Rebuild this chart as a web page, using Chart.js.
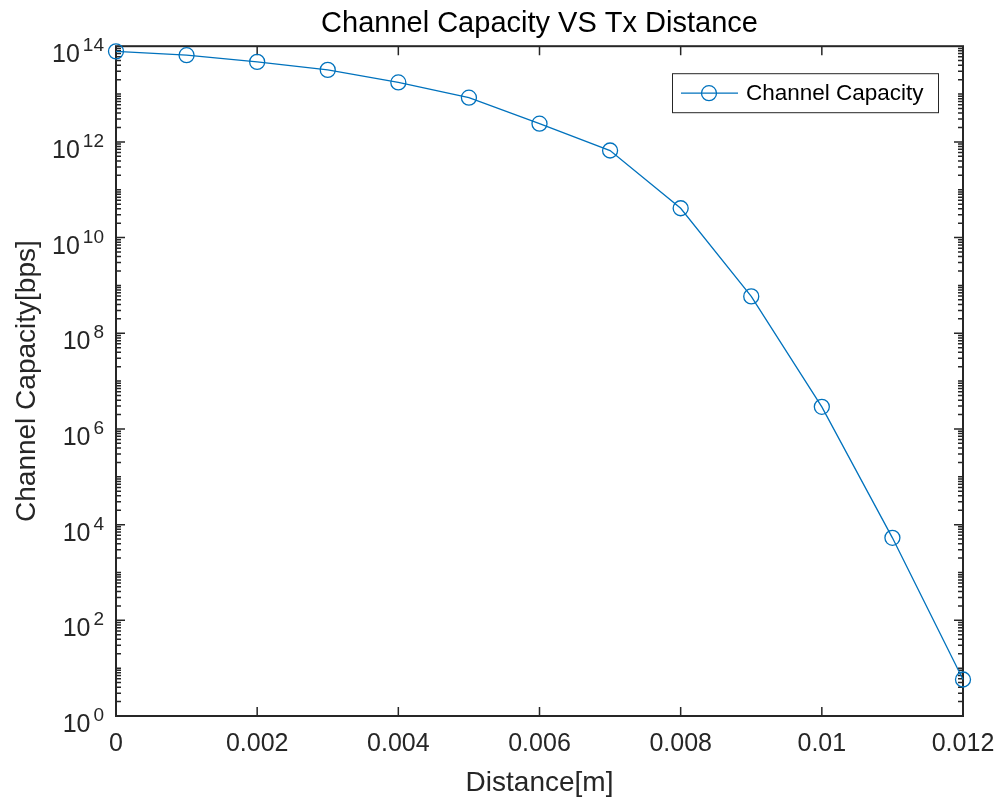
<!DOCTYPE html>
<html>
<head>
<meta charset="utf-8">
<title>Channel Capacity VS Tx Distance</title>
<script src="https://cdn.jsdelivr.net/npm/chart.js@4.4.0/dist/chart.umd.min.js"></script>
<style>
  html, body { margin: 0; padding: 0; background: #fff; }
  #wrap { width: 1000px; height: 801px; }
</style>
</head>
<body>
<div id="wrap"><canvas id="capacityChart"></canvas></div>
<script>
// values
const distances = [0, 0.001, 0.002, 0.003, 0.004, 0.005, 0.006, 0.007, 0.008, 0.009, 0.010, 0.011, 0.012];
const capacity = [7.8e13, 6.5e13, 4.7e13, 3.2e13, 1.75e13, 8.4e12, 2.4e12, 6.6e11, 4.1e10, 5.9e8, 2.9e6, 5.3e3, 5.8];
const xTicks = [0, 0.002, 0.004, 0.006, 0.008, 0.01, 0.012];
const yExponents = [0, 2, 4, 6, 8, 10, 12, 14];

const FONT = "'Liberation Sans', Arial, Helvetica, sans-serif";
const AXIS_COLOR = "#262626";
const LINE_COLOR = "#0072BD";

// MATLAB style box, inward ticks, 10^n labels and the inset legend
const matlabAxes = {
    id: "matlabAxes",
    beforeDatasetsDraw(chart) {
        const { ctx, chartArea: a, scales } = chart;
        const xs = scales.x, ys = scales.y;
        ctx.save();
        ctx.strokeStyle = AXIS_COLOR;
        ctx.lineWidth = 1.5;
        ctx.beginPath();
        xs.ticks.forEach(t => {
            const px = xs.getPixelForValue(t.value);
            ctx.moveTo(px, a.bottom); ctx.lineTo(px, a.bottom - 9);
            ctx.moveTo(px, a.top); ctx.lineTo(px, a.top + 9);
        });
        for (let e = 0; e < 14; e++) {
            for (let m = 1; m <= 9; m++) {
                const py = ys.getPixelForValue(m * Math.pow(10, e));
                const len = (m === 1 && e % 2 === 0) ? 9 : 5;
                ctx.moveTo(a.left, py); ctx.lineTo(a.left + len, py);
                ctx.moveTo(a.right, py); ctx.lineTo(a.right - len, py);
            }
        }
        ctx.stroke();
        ctx.lineWidth = 2;
        ctx.strokeRect(a.left, a.top, a.right - a.left, a.bottom - a.top);

        // y tick labels as 10 with a raised exponent
        ctx.fillStyle = AXIS_COLOR;
        ctx.textAlign = "right";
        ctx.textBaseline = "alphabetic";
        ys.ticks.forEach(t => {
            const py = ys.getPixelForValue(t.value);
            const exp = String(Math.round(Math.log10(t.value)));
            ctx.font = "19px " + FONT;
            const expW = ctx.measureText(exp).width;
            ctx.fillText(exp, a.left - 12, py + 5);
            ctx.font = "25px " + FONT;
            ctx.fillText("10", a.left - 12 - expW - 3, py + 16);
        });
        ctx.restore();
    },
    afterDraw(chart) {
        const { ctx, chartArea: a } = chart;
        const ds = chart.data.datasets[0];
        const bx = a.right - 291, by = a.top + 27, bw = 266, bh = 39;
        ctx.save();
        ctx.fillStyle = "#fff";
        ctx.fillRect(bx, by, bw, bh);
        ctx.strokeStyle = "#262626";
        ctx.lineWidth = 1;
        ctx.strokeRect(bx + 0.5, by + 0.5, bw, bh);
        const cy = by + bh / 2 + 0.5;
        ctx.strokeStyle = LINE_COLOR;
        ctx.lineWidth = 1.3;
        ctx.beginPath();
        ctx.moveTo(bx + 9, cy); ctx.lineTo(bx + 66, cy);
        ctx.stroke();
        ctx.beginPath();
        ctx.arc(bx + 37, cy, 7.5, 0, Math.PI * 2);
        ctx.stroke();
        ctx.fillStyle = "#000";
        ctx.font = "22.5px " + FONT;
        ctx.textAlign = "left";
        ctx.textBaseline = "middle";
        ctx.fillText(ds.label, bx + 74, cy + 1);
        ctx.restore();
    }
};

const ctx = document.getElementById("capacityChart").getContext("2d");

new Chart(ctx, {
    type: "line",
    data: {
        datasets: [{
            label: "Channel Capacity",
            data: distances.map((d, i) => ({ x: d, y: capacity[i] })),
            borderColor: LINE_COLOR,
            backgroundColor: "rgba(0,0,0,0)",
            borderWidth: 1.3,
            pointRadius: 7.5,
            pointBorderWidth: 1.3,
            pointBackgroundColor: "rgba(0,0,0,0)",
            pointBorderColor: LINE_COLOR,
            tension: 0,
            clip: false
        }]
    },
    options: {
        responsive: true,
        maintainAspectRatio: false,
        animation: false,
        devicePixelRatio: 1,
        layout: { padding: { left: 0, right: 37, top: 0, bottom: 0 } },
        plugins: {
            legend: { display: false },
            tooltip: { enabled: false },
            title: {
                display: true,
                fullSize: false,
                text: "Channel Capacity VS Tx Distance",
                color: "#000",
                font: { family: FONT, size: 29, weight: "normal" },
                padding: { top: 6.5, bottom: 4.9 }
            }
        },
        scales: {
            x: {
                type: "linear",
                min: 0,
                max: 0.012,
                afterBuildTicks: s => { s.ticks = xTicks.map(v => ({ value: v })); },
                afterFit: s => { s.height = 85; s.paddingLeft = 0; s.paddingRight = 0; },
                grid: { display: false, drawTicks: false },
                border: { display: false },
                ticks: {
                    padding: 13,
                    maxRotation: 0,
                    autoSkip: false,
                    color: AXIS_COLOR,
                    font: { family: FONT, size: 25 },
                    callback: v => String(+v.toFixed(3))
                },
                title: {
                    display: true,
                    text: "Distance[m]",
                    color: AXIS_COLOR,
                    font: { family: FONT, size: 28 },
                    padding: { top: 0, bottom: 1 }
                }
            },
            y: {
                type: "logarithmic",
                min: 1,
                max: 1e14,
                afterBuildTicks: s => { s.ticks = yExponents.map(e => ({ value: Math.pow(10, e) })); },
                afterFit: s => { s.width = 116; s.paddingTop = 0; s.paddingBottom = 0; },
                grid: { display: false },
                border: { display: false },
                ticks: { display: false },
                title: {
                    display: true,
                    text: "Channel Capacity[bps]",
                    color: AXIS_COLOR,
                    font: { family: FONT, size: 28 },
                    padding: { top: 10, bottom: 0 }
                }
            }
        }
    },
    plugins: [matlabAxes]
});
</script>
</body>
</html>
